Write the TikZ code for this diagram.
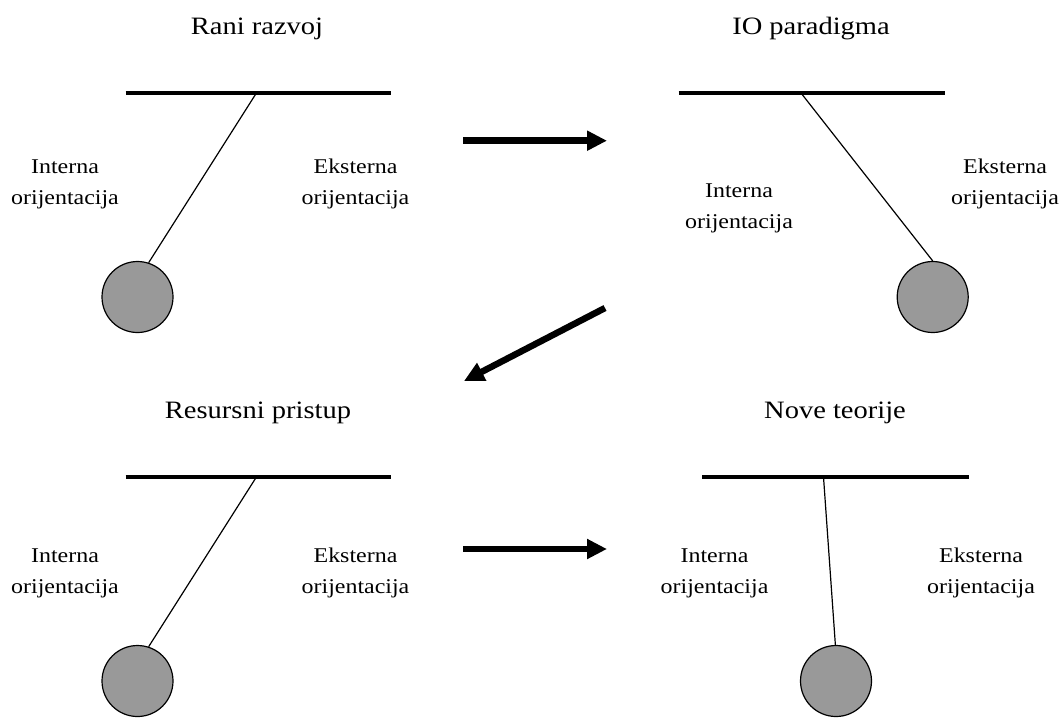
\documentclass[tikz,border=0pt]{standalone}
\usepackage{fontspec}
\setmainfont{Liberation Serif}[FakeStretch=1.14]
\usetikzlibrary{arrows.meta}
\definecolor{bobgray}{gray}{0.6}

\begin{document}
\begin{tikzpicture}[x=1pt,y=-1pt,
	bar/.style={line width=4.5pt},
	rod/.style={line width=1.2pt},
	bob/.style={circle,draw,line width=1.2pt,fill=bobgray,minimum size=71pt,inner sep=0pt},
	ttl/.style={anchor=base,inner sep=0pt,font=\fontsize{25}{30}\selectfont},
	lbl/.style={align=center,inner sep=0pt,font=\fontsize{21}{31}\selectfont},
	flow/.style={line width=6.5pt,-{Triangle[length=20pt,width=19pt]}}]
	\useasboundingbox (0,0) rectangle (1059,718);
	% Rani razvoj
	\node[ttl] (t1) at (257,34) {Rani razvoj};
	\coordinate (l1) at (125.6,93); \coordinate (r1) at (390.7,93); \coordinate (p1) at (256.4,93);
	\node[bob] (b1) at (137.5,297) {};
	\node[lbl] (i1) at (65,184) {Interna\\orijentacija};
	\node[lbl] (e1) at (355.5,184) {Eksterna\\orijentacija};
	\draw[bar] (l1) -- (r1);
	\draw[rod] (p1) -- (b1.72);
	% IO paradigma
	\node[ttl] (t2) at (811,34) {IO paradigma};
	\coordinate (l2) at (678.5,93); \coordinate (r2) at (944.8,93); \coordinate (p2) at (801,93);
	\node[bob] (b2) at (932.7,297) {};
	\node[lbl] (i2) at (739,208) {Interna\\orijentacija};
	\node[lbl] (e2) at (1005,184) {Eksterna\\orijentacija};
	\draw[bar] (l2) -- (r2);
	\draw[rod] (p2) -- (b2.90);
	% Resursni pristup
	\node[ttl] (t3) at (258,418) {Resursni pristup};
	\coordinate (l3) at (125.6,477); \coordinate (r3) at (390.7,477); \coordinate (p3) at (256.4,477);
	\node[bob] (b3) at (137.5,681) {};
	\node[lbl] (i3) at (65,573) {Interna\\orijentacija};
	\node[lbl] (e3) at (355.5,573) {Eksterna\\orijentacija};
	\draw[bar] (l3) -- (r3);
	\draw[rod] (p3) -- (b3.72);
	% Nove teorije
	\node[ttl] (t4) at (835,418) {Nove teorije};
	\coordinate (l4) at (702.3,477); \coordinate (r4) at (968.6,477); \coordinate (p4) at (823.5,477);
	\node[bob] (b4) at (836,681) {};
	\node[lbl] (i4) at (714.5,573) {Interna\\orijentacija};
	\node[lbl] (e4) at (981,573) {Eksterna\\orijentacija};
	\draw[bar] (l4) -- (r4);
	\draw[rod] (p4) -- (b4.91);
	% arrows between stages
	\coordinate (a1) at (463,140.7); \coordinate (a1') at (607,140.7);
	\coordinate (a2) at (605,308);   \coordinate (a2') at (464,381);
	\coordinate (a3) at (463,549);   \coordinate (a3') at (607,549);
	\draw[flow] (a1) -- (a1');
	\draw[flow] (a2) -- (a2');
	\draw[flow] (a3) -- (a3');
\end{tikzpicture}
\end{document}
